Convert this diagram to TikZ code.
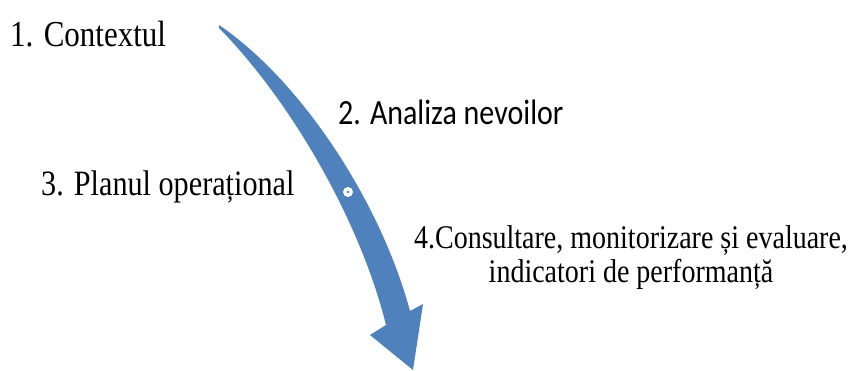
\documentclass[tikz,border=0pt]{standalone}
\usepackage{fontspec}
\setmainfont{Liberation Serif}
\newfontfamily\calibrifont{Carlito}
\definecolor{arrowblue}{HTML}{4F81BD}
\newcommand{\tall}[1]{\scalebox{1}[1.18]{#1}}

\begin{document}
\begin{tikzpicture}[x=1pt,y=-1pt,
        serif/.style={inner sep=0pt,anchor=base west},
        sans/.style={font=\calibrifont\fontsize{30}{34}\selectfont,inner sep=0pt,anchor=base west}]
    \useasboundingbox (0,0) rectangle (851,371);
    % the curved arrow
    \fill[arrowblue] (219,25) .. controls (300,80) and (380,200) .. (410,311)
        -- (423,304) -- (413,370) -- (370,335) -- (386,325)
        .. controls (360,220) and (290,100) .. (219,28) -- cycle;
    \fill[white] (348,192) circle (5);
    \fill[arrowblue] (348,192) circle (1.4);
    % labels
    \node[serif,font=\fontsize{31}{34}\selectfont] (context) at (10,46.7) {\tall{1. Contextul}};
    \node[sans] (analiza) at (338,124.3) {\tall{2. Analiza nevoilor}};
    \node[serif,font=\fontsize{30.2}{34}\selectfont] (plan) at (41,196) {\tall{3. Planul operațional}};
    \node[inner sep=0pt,anchor=base,font=\fontsize{28}{27.7}\selectfont] (consult) at (631,249)
        {\tall{\begin{tabular}[t]{@{}c@{}}4.Consultare, monitorizare și evaluare,\\indicatori de performanță\end{tabular}}};
\end{tikzpicture}
\end{document}
